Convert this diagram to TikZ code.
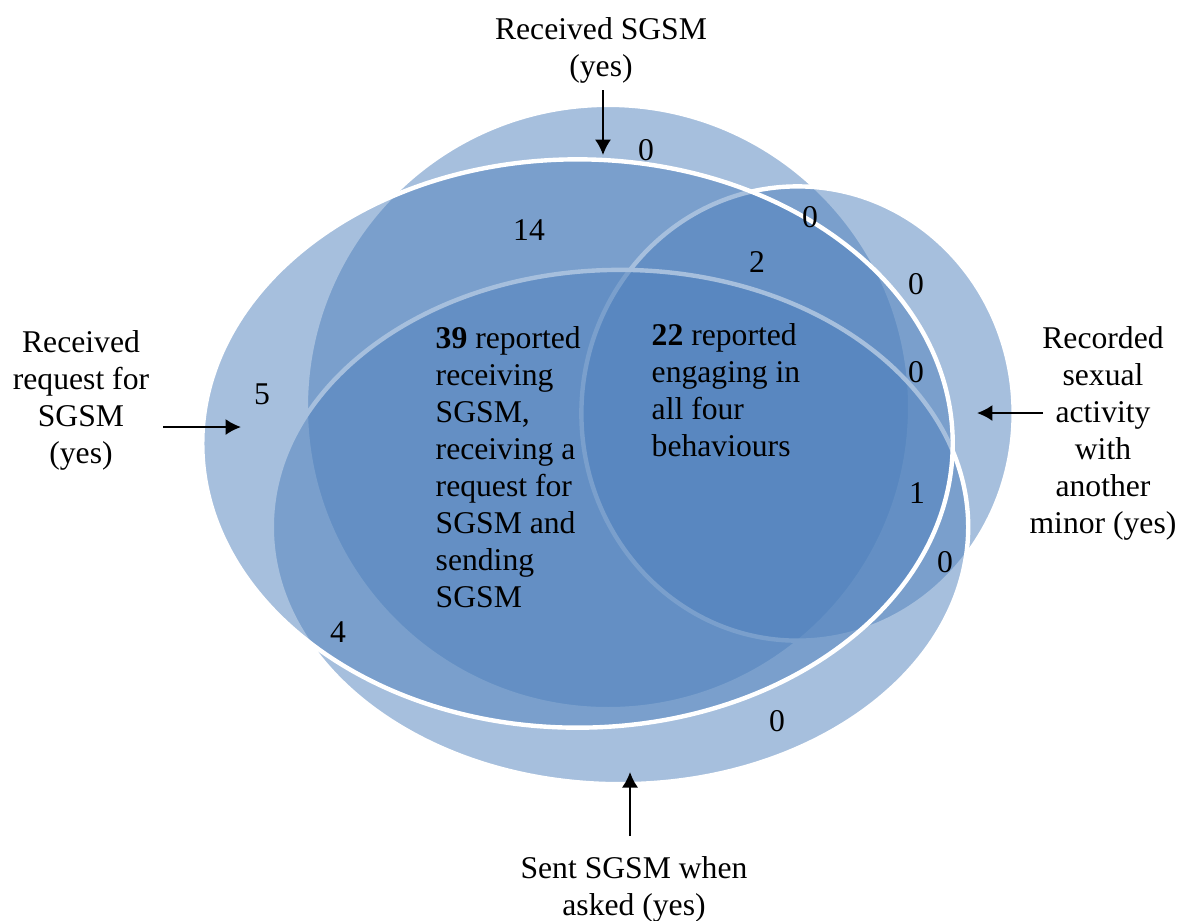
\documentclass[tikz,border=0pt]{standalone}
\usepackage{fontspec}
\setmainfont{Liberation Serif}
\usetikzlibrary{arrows.meta}
\definecolor{vennblue}{HTML}{4F81BD}
\begin{document}
\begin{tikzpicture}[x=0.01cm,y=-0.01cm,
  set/.style={fill=vennblue, fill opacity=0.5, draw=white, line width=1.25pt},
  txt/.style={font=\fontsize{9}{10.5}\selectfont, inner sep=0pt},
  lbl/.style={txt, align=center, anchor=north},
  body/.style={txt, align=left, anchor=north west},
  pointer/.style={line width=0.6pt, -{Latex[length=4.4pt,width=4.6pt]}}]

% canvas
\path[use as bounding box, fill=white] (0,0) rectangle (1179,920);

% the four sets, back to front
\path[set] (608,407) circle [radius=3.02cm];                          % received SGSM
\path[set] (797.5,413.5) ellipse [x radius=2.16cm, y radius=2.27cm];  % sexual activity
\path[set] (620,527) ellipse [x radius=3.48cm, y radius=2.57cm];      % sent SGSM
\path[set] (577.5,443.5) ellipse [x radius=3.75cm, y radius=2.84cm];  % received request

% set labels
\node[lbl] (lblRecv) at (601,17) {Received SGSM\\(yes)};
\node[lbl] (lblReq) at (81,330) {Received\\request for\\SGSM\\(yes)};
\node[lbl] (lblAct) at (1103,326) {Recorded\\sexual\\activity\\with\\another\\minor (yes)};
\node[lbl] (lblSent) at (634,856) {Sent SGSM when\\asked (yes)};

% pointers
\coordinate (recvTail) at (603,90);   \coordinate (recvTip) at (603,155);
\coordinate (reqTail) at (163,427);   \coordinate (reqTip) at (241,427);
\coordinate (actTail) at (1043,413);  \coordinate (actTip) at (977,413);
\coordinate (sentTail) at (630,836);  \coordinate (sentTip) at (630,772);
\draw[pointer] (recvTail) -- (recvTip);
\draw[pointer] (reqTail) -- (reqTip);
\draw[pointer] (actTail) -- (actTip);
\draw[pointer] (sentTail) -- (sentTip);

% region counts
\node[txt] (cTop)    at (646,150) {0};
\node[txt] (c14)     at (529,230) {14};
\node[txt] (cTopR)   at (810,217) {0};
\node[txt] (c2)      at (757,262) {2};
\node[txt] (cR1)     at (916,284) {0};
\node[txt] (cR2)     at (916,372) {0};
\node[txt] (c1)      at (917,493) {1};
\node[txt] (cR3)     at (945,562) {0};
\node[txt] (cBot)    at (777,721) {0};
\node[txt] (c4)      at (338,632) {4};
\node[txt] (c5)      at (262,394) {5};

% central descriptions
\node[body] (desc39) at (435,326) {\textbf{39} reported\\receiving\\SGSM,\\receiving a\\request for\\SGSM and\\sending\\SGSM};
\node[body] (desc22) at (651,323) {\textbf{22} reported\\engaging in\\all four\\behaviours};
\end{tikzpicture}
\end{document}
